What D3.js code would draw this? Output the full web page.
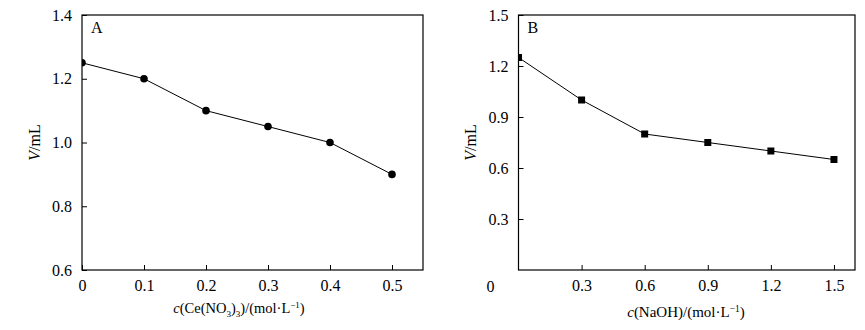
<!DOCTYPE html>
<html><head><meta charset="utf-8">
<script src="https://cdn.jsdelivr.net/npm/d3@7"></script>
<style>
body{margin:0;background:#fff;}
svg text{font-family:"Liberation Serif","Times New Roman",serif;fill:#000;}
</style></head>
<body><svg id="c" width="865" height="330"></svg>
<script>
const xA = [0, 0.1, 0.2, 0.3, 0.4, 0.5];
const yA = [1.25, 1.2, 1.1, 1.05, 1.0, 0.9];
const xTicksA = [0, 0.1, 0.2, 0.3, 0.4, 0.5];
const yTicksA = [0.6, 0.8, 1.0, 1.2, 1.4];

const xB = [0, 0.3, 0.6, 0.9, 1.2, 1.5];
const yB = [1.25, 1.0, 0.8, 0.75, 0.7, 0.65];
const xTicksB = [0.3, 0.6, 0.9, 1.2, 1.5];
const yTicksB = [0.3, 0.6, 0.9, 1.2, 1.5];

const svg = d3.select("#c");
const FS = 16;

function panel(cfg){
  const g = svg.append("g");
  const x = d3.scaleLinear().domain(cfg.xd).range([cfg.l, cfg.r]);
  const y = d3.scaleLinear().domain(cfg.yd).range([cfg.b, cfg.t]);
  const clipId = "clip" + cfg.id;
  svg.append("clipPath").attr("id", clipId).append("rect")
    .attr("x", cfg.l).attr("y", cfg.t).attr("width", cfg.r - cfg.l).attr("height", cfg.b - cfg.t);

  const ax = g.append("g").attr("transform", `translate(0,${cfg.b})`)
    .call(d3.axisBottom(x).tickValues(cfg.xt).tickSize(-5).tickPadding(10)
      .tickFormat(d => d === 0 ? "0" : d3.format(".1f")(d)));
  const ay = g.append("g").attr("transform", `translate(${cfg.l},0)`)
    .call(d3.axisLeft(y).tickValues(cfg.yt).tickSize(-5).tickPadding(10).tickFormat(d3.format(".1f")));
  [ax, ay].forEach(a => {
    a.select(".domain").remove();
    a.selectAll("line").attr("stroke", "#000").attr("stroke-width", 1);
    a.selectAll("text").attr("font-size", FS).attr("font-family", "Liberation Serif");
  });
  ax.selectAll("text").attr("dy", "0.71em");

  g.append("rect").attr("x", cfg.l).attr("y", cfg.t)
    .attr("width", cfg.r - cfg.l).attr("height", cfg.b - cfg.t)
    .attr("fill", "none").attr("stroke", "#000").attr("stroke-width", 1.2);

  const data = cfg.xs.map((v, i) => [v, cfg.ys[i]]);
  const pg = g.append("g").attr("clip-path", `url(#${clipId})`);
  pg.append("path").datum(data)
    .attr("d", d3.line().x(d => x(d[0])).y(d => y(d[1])))
    .attr("fill", "none").attr("stroke", "#000").attr("stroke-width", 1);
  if (cfg.marker === "circle") {
    pg.selectAll("circle").data(data).join("circle")
      .attr("cx", d => x(d[0])).attr("cy", d => y(d[1])).attr("r", 3.8).attr("fill", "#000");
  } else {
    pg.selectAll("rect.m").data(data).join("rect").attr("class", "m")
      .attr("x", d => x(d[0]) - 3.5).attr("y", d => y(d[1]) - 3.5)
      .attr("width", 7).attr("height", 7).attr("fill", "#000");
  }

  g.append("text").attr("x", cfg.l + 9).attr("y", cfg.t + 18).attr("font-size", FS).text(cfg.letter);

  const yt = g.append("text").attr("transform", `translate(${cfg.ytx},${(cfg.t + cfg.b) / 2}) rotate(-90)`)
    .attr("text-anchor", "middle").attr("font-size", FS);
  yt.append("tspan").attr("font-style", "italic").text("V");
  yt.append("tspan").text("/mL");

  return {g, x, y};
}

const A = panel({id: "A", l: 82, r: 423, t: 15, b: 270, xd: [0, 0.55], yd: [0.6, 1.4],
  xt: xTicksA, yt: yTicksA, xs: xA, ys: yA, marker: "circle", letter: "A", ytx: 40});
const B = panel({id: "B", l: 518.5, r: 855, t: 15, b: 270, xd: [0, 1.6], yd: [0, 1.5],
  xt: xTicksB, yt: yTicksB, xs: xB, ys: yB, marker: "square", letter: "B", ytx: 476});

svg.append("text").attr("x", B.x(0) - 28).attr("y", 292).attr("text-anchor", "middle")
  .attr("font-size", FS).text("0");

const tA = svg.append("text").attr("x", 239).attr("y", 313)
  .attr("text-anchor", "middle").attr("font-size", 14.5);
tA.append("tspan").attr("font-style", "italic").text("c");
tA.append("tspan").text("(Ce(NO");
tA.append("tspan").attr("font-size", 9).attr("dy", 4).text("3");
tA.append("tspan").attr("dy", -4).text(")");
tA.append("tspan").attr("font-size", 9).attr("dy", 4).text("3");
tA.append("tspan").attr("dy", -4).text(")/(mol·L");
tA.append("tspan").attr("font-size", 9).attr("dy", -5).text("−1");
tA.append("tspan").attr("dy", 5).text(")");

const tB = svg.append("text").attr("x", 686).attr("y", 317)
  .attr("text-anchor", "middle").attr("font-size", 15);
tB.append("tspan").attr("font-style", "italic").text("c");
tB.append("tspan").text("(NaOH)/(mol·L");
tB.append("tspan").attr("font-size", 9.5).attr("dy", -5).text("−1");
tB.append("tspan").attr("dy", 5).text(")");
</script></body></html>
